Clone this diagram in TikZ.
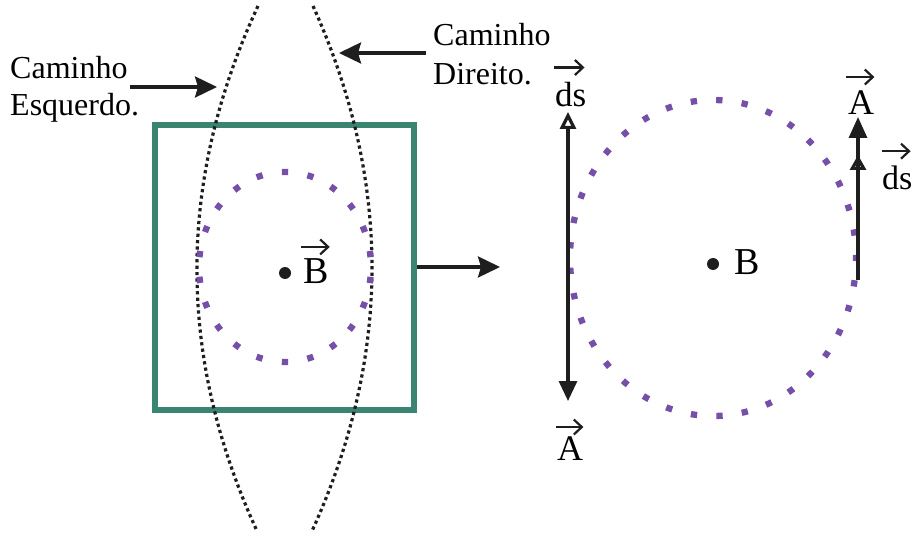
\documentclass[tikz,border=0pt]{standalone}
\usepackage{fontspec}
\setmainfont{Liberation Serif}
\usetikzlibrary{arrows.meta}
\definecolor{tealbox}{RGB}{58,133,114}
\definecolor{purp}{RGB}{118,80,168}
\definecolor{dk}{RGB}{30,30,30}
\begin{document}
\begin{tikzpicture}[x=1pt,y=-1pt,
  lbl/.style={inner sep=0pt, anchor=base west, font=\fontsize{32}{38}\selectfont},
  vlbl/.style={inner sep=0pt, anchor=base west, font=\fontsize{36}{40}\selectfont},
  vecarr/.style={dk, line width=2.2pt, -{Straight Barb[length=8pt,width=15pt]}},
  pointer/.style={dk, line width=3.2pt, -{Stealth[length=22pt,width=21pt,inset=3pt]}},
  pathdots/.style={dk, line width=3.2pt, dash pattern=on 3.2pt off 3.2pt},
  circdots/.style={purp, line width=6.3pt},
  shaft/.style={dk, line width=3.2pt},
  bdot/.style={circle, fill=dk, inner sep=0pt, minimum size=12pt}]
\useasboundingbox (0,0) rectangle (913,537);

% square
\node[draw=tealbox, line width=6pt, minimum width=259pt, minimum height=285pt, inner sep=0pt] (sq) at (284.5,267.5) {};

% dotted paths
\draw[pathdots] (258,6) .. controls (176.7,181) and (176.7,356) .. (257,531);
\draw[pathdots] (313,6) .. controls (391.8,181) and (391.8,356) .. (312,531);

% small loop
\draw[circdots, dash pattern=on 6.3pt off 19.56pt, dash phase=16.08pt] (285,267) ellipse [x radius=86pt, y radius=95pt];
\node[bdot] (dotL) at (285,273) {};
\node[vlbl, font=\fontsize{38}{40}\selectfont] (lB) at (303,284) {B};
\draw[vecarr] ([xshift=-2pt,yshift=12pt]lB.north west) -- ([xshift=1pt,yshift=12pt]lB.north east);

% arrow to right
\coordinate (sqArr) at (500,267);
\draw[pointer] (sq.east |- sqArr) -- (sqArr);

% labels left
\node[lbl] (lcam) at (10,79) {Caminho};
\node[lbl] (lesq) at (10,116) {Esquerdo.};
\coordinate (lptA) at (130,87);
\coordinate (lptB) at (217,87);
\draw[pointer] (lptA) -- (lptB);

% labels right
\node[lbl] (rcam) at (433,46) {Caminho};
\node[lbl] (rdir) at (433,85) {Direito.};
\coordinate (rptA) at (426,53);
\coordinate (rptB) at (339,53);
\draw[pointer] (rptA) -- (rptB);

% big loop
\draw[circdots, dash pattern=on 6.3pt off 19.28pt, dash phase=3.15pt] (713,258) ellipse [x radius=143pt, y radius=158pt];
\node[bdot] (dotR) at (713,264) {};
\node[vlbl, font=\fontsize{38}{40}\selectfont] (rB) at (734,275) {B};

% left vertical arrow
\coordinate (lvTop) at (568,112);
\coordinate (lvBot) at (568,401);
\draw[shaft, {Triangle[open,length=17pt,width=16pt]}-{Triangle[length=20pt,width=18pt]}] (lvTop) -- (lvBot);
\node[vlbl, font=\fontsize{35}{40}\selectfont] (lds) at (555,107) {ds};
\draw[vecarr] ([xshift=-1pt,yshift=15pt]lds.north west) -- ([xshift=-2pt,yshift=15pt]lds.north east);
\node[vlbl] (lA) at (557,460) {A};
\draw[vecarr] ([xshift=-1pt,yshift=9pt]lA.north west) -- ([xshift=0pt,yshift=9pt]lA.north east);

% right vertical arrows
\coordinate (rvBot) at (858,280);
\coordinate (rvMid) at (858,155);
\coordinate (rvTop) at (858,117);
\draw[shaft, -{Triangle[length=21pt,width=18pt]}] (rvBot) -- (rvTop);
\draw[shaft, -{Triangle[open,length=15pt,width=16pt]}] (rvBot) -- (rvMid);
\node[vlbl] (rA) at (848,115) {A};
\draw[vecarr] ([xshift=-2pt,yshift=14pt]rA.north west) -- ([xshift=0pt,yshift=14pt]rA.north east);
\node[vlbl, font=\fontsize{34}{40}\selectfont] (rds) at (882,190) {ds};
\draw[vecarr] ([xshift=0pt,yshift=15pt]rds.north west) -- ([xshift=-2pt,yshift=15pt]rds.north east);
\end{tikzpicture}
\end{document}
